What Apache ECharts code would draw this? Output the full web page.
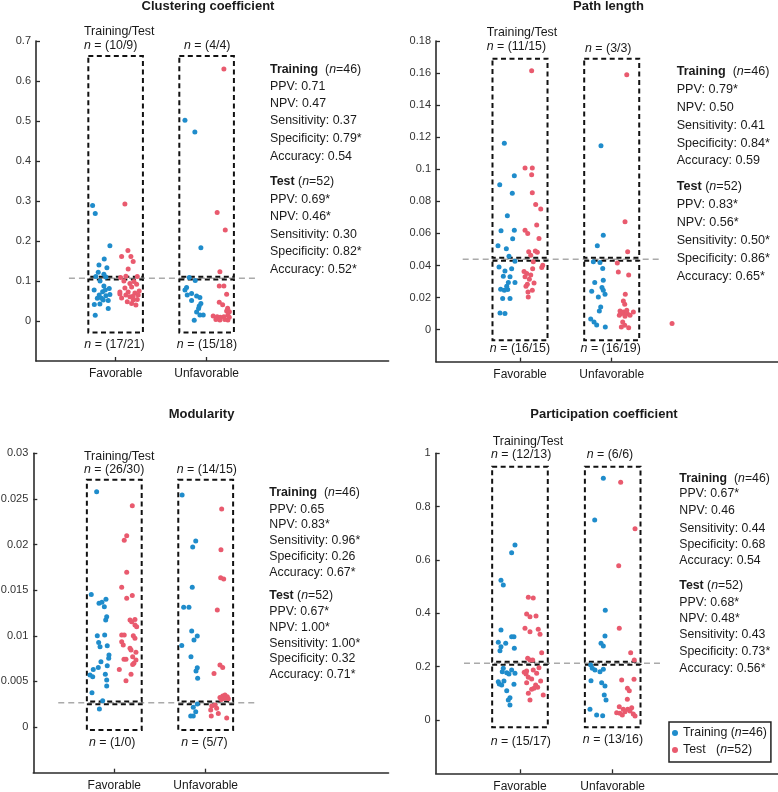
<!DOCTYPE html>
<html><head><meta charset="utf-8">
<script src="https://cdn.jsdelivr.net/npm/echarts@6/dist/echarts.min.js"></script>
<style>html,body{margin:0;padding:0;background:#fff}#c{width:778px;height:792px}</style>
</head><body><div id="c"></div>
<script>
// ---------------- DATA ----------------
const categories = ['Favorable', 'Unfavorable'];

// Clustering coefficient: [x (1=Favorable, 2=Unfavorable, jittered), value]
const ccTrain = [
  [0.747,0.289],[0.776,0.269],[0.937,0.188],[0.875,0.155],[0.817,0.140],[0.904,0.133],[0.809,0.122],[0.871,0.117],[0.783,0.111],[0.893,0.110],
  [0.829,0.100],[0.871,0.0875],[0.930,0.081],[0.764,0.0775],[0.857,0.073],[0.820,0.065],[0.893,0.063],[0.937,0.066],[0.799,0.057],[0.864,0.0525],[0.919,0.051],[0.827,0.0425],[0.766,0.041],[0.919,0.0315],[0.776,0.0145],[0.886,0.0775],[0.845,0.057],
  [1.762,0.502],[1.871,0.4725],[1.937,0.183],[1.809,0.109],
  [1.875,0.101],[1.780,0.084],[1.835,0.069],[1.787,0.065],[1.890,0.0625],[1.926,0.059],[1.835,0.051],[1.937,0.044],[1.919,0.0375],[1.912,0.031],[1.890,0.0225],[1.926,0.015],[1.963,0.015],[1.864,0.002],[1.762,0.0775]
];
const ccTest = [
  [1.102,0.2925],[1.135,0.176],[1.066,0.161],[1.168,0.161],[1.193,0.149],[1.138,0.130],[1.055,0.109],[1.238,0.111],[1.113,0.112],
  [1.091,0.100],[1.201,0.099],[1.157,0.094],[1.231,0.092],[1.102,0.0825],[1.176,0.085],[1.047,0.0675],[1.113,0.065],[1.212,0.070],[1.248,0.065],[1.066,0.0575],[1.157,0.0608],[1.193,0.0525],[1.238,0.054],[1.128,0.0483],[1.223,0.040],[1.176,0.044],[1.047,0.0725],[1.138,0.0725],[1.259,0.075],[1.193,0.0625],
  [2.190,0.630],[2.116,0.271],[2.205,0.2275],[2.146,0.123],
  [2.139,0.0875],[2.190,0.0875],[2.220,0.0667],[2.139,0.0467],[2.176,0.0408],[2.231,0.0317],[2.220,0.025],[2.072,0.0125],[2.116,0.0108],[2.150,0.0092],[2.190,0.0108],[2.234,0.015],[2.249,0.0092],[2.102,0.004],[2.146,0.0025],[2.200,0.004],[2.234,0.0025],[2.250,0.0233]
];
const ccThreshold = 0.107;
const ccTicks = [0, 0.1, 0.2, 0.3, 0.4, 0.5, 0.6, 0.7];
const ccUpperN = ['10/9', '4/4'];
const ccLowerN = ['17/21', '15/18'];
const ccStatsTrain = ['PPV: 0.71', 'NPV: 0.47', 'Sensitivity: 0.37', 'Specificity: 0.79*', 'Accuracy: 0.54'];
const ccStatsTest = ['PPV: 0.69*', 'NPV: 0.46*', 'Sensitivity: 0.30', 'Specificity: 0.82*', 'Accuracy: 0.52*'];

// Path length
const plTrain = [
  [0.829,0.1163],[0.938,0.096],[0.779,0.0904],[0.916,0.085],[0.862,0.071],[0.793,0.0616],[0.938,0.062],[0.920,0.0566],[0.760,0.0523],[0.851,0.0504],[0.880,0.0458],
  [0.945,0.0427],[0.771,0.0391],[0.836,0.0366],[0.818,0.0333],[0.891,0.0329],[0.873,0.0294],[0.945,0.0294],[0.789,0.0252],[0.829,0.0246],[0.866,0.025],[0.811,0.0194],[0.891,0.0194],[0.782,0.0104],[0.836,0.010],[0.855,0.027],[0.909,0.038],
  [1.883,0.1146],[1.908,0.0589],[1.843,0.0523],
  [1.800,0.0423],[1.872,0.0419],[1.902,0.0381],[1.815,0.0294],[1.908,0.0308],[1.782,0.0239],[1.894,0.0262],[1.908,0.0246],[1.927,0.0221],[1.880,0.0141],[1.865,0.0116],[1.771,0.0066],[1.807,0.0048],[1.836,0.0029],[1.930,0.0016],[1.854,0.0204]
];
const plTest = [
  [1.127,0.1614],[1.055,0.1008],[1.134,0.1008],[1.127,0.0966],[1.134,0.0854],[1.171,0.0781],[1.226,0.0752],[1.182,0.0652],[1.055,0.062],[1.084,0.060],[1.207,0.0569],[1.095,0.0485],[1.167,0.0491],[1.189,0.0483],[1.117,0.0464],
  [1.145,0.0423],[1.248,0.0402],[1.237,0.0388],[1.138,0.0379],[1.044,0.0362],[1.073,0.035],[1.117,0.034],[1.055,0.0329],[1.102,0.0314],[1.153,0.0291],[1.080,0.0283],[1.134,0.0246],[1.087,0.0235],[1.090,0.0204],[1.065,0.027],
  [2.164,0.159],[2.145,0.0673],[2.174,0.0485],
  [2.061,0.0416],[2.072,0.036],[2.185,0.034],[2.148,0.0221],[2.127,0.0179],[2.142,0.0158],[2.091,0.0116],[2.127,0.011],[2.164,0.0121],[2.109,0.010],[2.170,0.010],[2.083,0.0089],[2.236,0.011],[2.120,0.0048],[2.142,0.0027],[2.105,0.0016],[2.185,0.0012],[2.145,0.0083],[2.200,0.0089],
  [2.658,0.0039]
];
const plThreshold = 0.0439;
const plTicks = [0, 0.02, 0.04, 0.06, 0.08, 0.1, 0.12, 0.14, 0.16, 0.18];
const plUpperN = ['11/15', '3/3'];
const plLowerN = ['16/15', '16/19'];
const plStatsTrain = ['PPV: 0.79*', 'NPV: 0.50', 'Sensitivity: 0.41', 'Specificity: 0.84*', 'Accuracy: 0.59'];
const plStatsTest = ['PPV: 0.83*', 'NPV: 0.56*', 'Sensitivity: 0.50*', 'Specificity: 0.86*', 'Accuracy: 0.65*'];

// Modularity
const modTrain = [
  [0.807,0.0258],[0.748,0.01454],[0.833,0.01356],[0.865,0.01367],[0.909,0.0140],[0.891,0.01319],[0.917,0.01209],[0.906,0.01173],[0.814,0.01001],[0.895,0.01008],[0.829,0.00928],[0.844,0.0088],[0.923,0.00891],[0.942,0.00789],[0.939,0.00753],[0.825,0.00654],[0.770,0.00632],[0.923,0.00672],[0.734,0.0057],[0.764,0.00551],[0.902,0.00578],[0.917,0.00515],[0.917,0.00449],[0.756,0.00376],[0.873,0.00288],[0.854,0.00716],
  [0.837,0.00197],
  [1.742,0.02543],[1.891,0.02039],[1.858,0.01973],[1.853,0.01531],[1.759,0.01312],[1.817,0.01312],[1.847,0.01052],[1.908,0.00997],[1.872,0.00954],[1.738,0.00895],[1.839,0.00771],[1.908,0.0065],[1.894,0.00614],[1.912,0.00534],
  [1.908,0.00252],[1.864,0.00216],[1.891,0.00168],[1.836,0.00121],[1.864,0.00121]
];
const modTest = [
  [1.197,0.02426],[1.136,0.02097],[1.109,0.02046],[1.136,0.01696],[1.081,0.01531],[1.136,0.01411],[1.197,0.01443],[1.172,0.01173],[1.226,0.0118],[1.190,0.01154],[1.226,0.01118],[1.245,0.0110],[1.081,0.01008],[1.109,0.01008],[1.208,0.01001],[1.226,0.00972],[1.081,0.00935],[1.172,0.00863],[1.183,0.00844],[1.237,0.00819],[1.201,0.00771],[1.106,0.00742],[1.128,0.00742],[1.237,0.00734],[1.215,0.00698],[1.201,0.00687],[1.055,0.00632],[1.183,0.00578],[1.128,0.00508],[1.098,0.00899],
  [2.175,0.0239],[2.167,0.01944],[2.164,0.01637],[2.197,0.01622],[2.127,0.01282],[2.156,0.0068],[2.186,0.00654],[2.091,0.00588],[2.186,0.0034],[2.211,0.00351],[2.236,0.00332],[2.156,0.00325],[2.200,0.00314],[2.247,0.0031],[2.171,0.00303],
  [2.066,0.0023],[2.102,0.00241],[2.055,0.00186],[2.120,0.00205],[2.061,0.00121],[2.138,0.0015],[2.230,0.00099]
];
const modThreshold = 0.00266;
const modTicks = [0, 0.005, 0.01, 0.015, 0.02, 0.025, 0.03];
const modUpperN = ['26/30', '14/15'];
const modLowerN = ['1/0', '5/7'];
const modStatsTrain = ['PPV: 0.65', 'NPV: 0.83*', 'Sensitivity: 0.96*', 'Specificity: 0.26', 'Accuracy: 0.67*'];
const modStatsTest = ['PPV: 0.67*', 'NPV: 1.00*', 'Sensitivity: 1.00*', 'Specificity: 0.32', 'Accuracy: 0.71*'];

// Participation coefficient
const pcTrain = [
  [0.946,0.656],[0.910,0.627],[0.795,0.524],[0.820,0.506],[0.795,0.3375],[0.935,0.3125],[0.910,0.3125],[0.766,0.291],[0.846,0.2875],[0.795,0.275],[0.939,0.269],[0.784,0.260],
  [0.820,0.194],[0.910,0.1875],[0.857,0.1775],[0.809,0.181],[0.946,0.175],[0.881,0.1725],[0.827,0.146],[0.777,0.135],[0.803,0.131],[0.935,0.134],[0.857,0.110],[0.892,0.0836],[0.874,0.075],[0.892,0.0562],[0.766,0.1436],
  [1.899,0.906],[1.806,0.750],[1.920,0.411],[1.917,0.315],[1.874,0.2875],[1.899,0.2775],
  [1.763,0.206],[1.780,0.194],[1.899,0.190],[1.766,0.1475],[1.881,0.140],[1.917,0.1275],[1.909,0.094],[1.928,0.075],[1.755,0.040],[1.827,0.0187],[1.892,0.016],[1.863,0.181],[1.809,0.1875]
];
const pcTest = [
  [1.090,0.460],[1.143,0.4575],[1.072,0.3975],[1.108,0.3875],[1.173,0.390],[1.054,0.344],[1.197,0.340],[1.108,0.331],[1.216,0.321],[1.234,0.2525],[1.083,0.231],[1.108,0.225],[1.137,0.225],
  [1.205,0.196],[1.072,0.184],[1.065,0.1725],[1.090,0.160],[1.126,0.154],[1.169,0.131],[1.223,0.146],[1.191,0.1225],[1.126,0.115],[1.090,0.100],[1.251,0.094],[1.108,0.075],[1.046,0.179],[1.143,0.1875],[1.180,0.175],[1.072,0.140],[1.151,0.119],
  [2.086,0.891],[2.241,0.717],[2.065,0.5787],[2.071,0.344],[2.194,0.2525],[2.233,0.225],
  [2.097,0.150],[2.230,0.1525],[2.159,0.119],[2.179,0.110],[2.158,0.0776],[2.071,0.050],[2.114,0.040],[2.162,0.040],[2.205,0.046],[2.043,0.0275],[2.079,0.025],[2.133,0.031],[2.222,0.0225],[2.241,0.015],[2.104,0.0187],[2.187,0.034]
];
const pcThreshold = 0.2126;
const pcTicks = [0, 0.2, 0.4, 0.6, 0.8, 1];
const pcUpperN = ['12/13', '6/6'];
const pcLowerN = ['15/17', '13/16'];
const pcStatsTrain = ['PPV: 0.67*', 'NPV: 0.46', 'Sensitivity: 0.44', 'Specificity: 0.68', 'Accuracy: 0.54'];
const pcStatsTest = ['PPV: 0.68*', 'NPV: 0.48*', 'Sensitivity: 0.43', 'Specificity: 0.73*', 'Accuracy: 0.56*'];

const nTrain = 46, nTest = 52;

// ---------------- LAYOUT / STYLE ----------------
const FONT = "'Liberation Sans', Arial, Helvetica, sans-serif";
const INK = '#1a1a1a';
const BLUE = '#1f8ccb', RED = '#e95a6e';

const panels = [
  { title: 'Clustering coefficient', train: ccTrain, test: ccTest, thr: ccThreshold, ticks: ccTicks, upN: ccUpperN, loN: ccLowerN, sTr: ccStatsTrain, sTe: ccStatsTest,
    grid: [36, 41, 352.6, 320], x: [0.125, 4], y: [-0.1, 0.7], boxY: [-0.029, 0.6625], thrX: [0.487, 2.564],
    titlePos: [208, 6], ttPos: [84, 31.7], upPos: [[84, 46], [184, 46]], loPos: [[114.5, 344.3], [207, 344.3]],
    statsX: 270, statsY: [70, 86.7, 103.3, 121, 138.7, 156.3, 182, 199.5, 217, 234.5, 252, 269.5], fs: 12.4 },
  { title: 'Path length', train: plTrain, test: plTest, thr: plThreshold, ticks: plTicks, upN: plUpperN, loN: plLowerN, sTr: plStatsTrain, sTe: plStatsTest,
    grid: [436, 41, 341.7, 320.7], x: [0.084, 3.81], y: [-0.02, 0.18], boxY: [-0.0067, 0.169], thrX: [0.375, 2.549],
    titlePos: [608.5, 6], ttPos: [486.7, 33], upPos: [[486.7, 46.7], [585, 48.3]], loPos: [[520, 349], [610.7, 349]],
    statsX: 676.7, statsY: [71.7, 89.3, 107.3, 126, 143.3, 161, 186.7, 204.3, 222.3, 240.7, 259, 276.7], fs: 12.6 },
  { title: 'Modularity', train: modTrain, test: modTest, thr: modThreshold, ticks: modTicks, upN: modUpperN, loN: modLowerN, sTr: modStatsTrain, sTe: modStatsTest,
    grid: [33.3, 453.3, 355.2, 319.4], x: [0.114, 4], y: [-0.005, 0.03], boxY: [-0.00033, 0.0271], thrX: [0.387, 2.572],
    titlePos: [201.5, 414.3], ttPos: [84, 456.7], upPos: [[84, 469.3], [176.7, 469.3]], loPos: [[112.2, 742.3], [204.5, 742.3]],
    statsX: 269.3, statsY: [492.7, 509.3, 525, 540.7, 556.7, 572.7, 595.7, 611.7, 627.3, 643.3, 659, 674.3], fs: 12.3 },
  { title: 'Participation coefficient', train: pcTrain, test: pcTest, thr: pcThreshold, ticks: pcTicks, upN: pcUpperN, loN: pcLowerN, sTr: pcStatsTrain, sTe: pcStatsTest,
    grid: [435.7, 453.3, 342.3, 320], x: [0.091, 3.783], y: [-0.2, 1], boxY: [-0.027, 0.95], thrX: [0.396, 2.51],
    titlePos: [604, 414.3], ttPos: [492.7, 442], upPos: [[491, 455], [586.7, 455]], loPos: [[520.8, 741.7], [613, 739.3]],
    statsX: 679.3, statsY: [478.3, 494, 511, 528.3, 545, 561, 585.7, 602.3, 619, 635, 651.7, 668.3], fs: 12.3 }
];
const BOX_HALF = 0.3;
const GAP_PX = 1.4;

function richFor(size) {
  return {
    b: { fontWeight: 'bold', fontSize: size, fontFamily: FONT, fill: INK },
    i: { fontStyle: 'italic', fontSize: size, fontFamily: FONT, fill: INK }
  };
}
function txt(x, y, text, size, align, weight) {
  return { type: 'text', x: x, y: y, silent: true, z: 10,
    style: { text: text, fontSize: size, fontFamily: FONT, fontWeight: weight || 'normal', fill: INK,
             align: align || 'left', verticalAlign: 'middle', rich: richFor(size) } };
}
function fmt(v) { return String(+v.toFixed(4)); }

const grids = [], xAxes = [], yAxes = [], series = [], graphics = [];
panels.forEach((p, k) => {
  grids.push({ left: p.grid[0], top: p.grid[1], width: p.grid[2], height: p.grid[3], containLabel: false, outerBoundsMode: 'none' });
  const axisLine = { show: true, onZero: false, lineStyle: { color: '#2b2b2b', width: 1.6 } };
  xAxes.push({ gridIndex: k, type: 'value', min: p.x[0], max: p.x[1], axisLine: axisLine, splitLine: { show: false },
    axisTick: { inside: true, length: 4, customValues: [1, 2], lineStyle: { color: '#2b2b2b', width: 1.3 } },
    axisLabel: { customValues: [1, 2], formatter: v => categories[Math.round(v) - 1], fontSize: 12, fontFamily: FONT, color: INK, margin: 7 } });
  yAxes.push({ gridIndex: k, type: 'value', min: p.y[0], max: p.y[1], axisLine: axisLine, splitLine: { show: false },
    axisTick: { inside: true, length: 4, customValues: p.ticks, lineStyle: { color: '#2b2b2b', width: 1.3 } },
    axisLabel: { customValues: p.ticks, formatter: fmt, fontSize: 11, fontFamily: FONT, color: '#333', margin: 5 } });

  const g = (p.y[1] - p.y[0]) / p.grid[3] * GAP_PX;
  const boxes = [];
  [1, 2].forEach(c => {
    boxes.push([c - BOX_HALF, c + BOX_HALF, p.thr + g, p.boxY[1]]);
    boxes.push([c - BOX_HALF, c + BOX_HALF, p.boxY[0], p.thr - g]);
  });
  series.push({ type: 'line', xAxisIndex: k, yAxisIndex: k, data: [[p.thrX[0], p.thr], [p.thrX[1], p.thr]], symbol: 'none', silent: true, z: 1,
    lineStyle: { color: '#aaaaaa', width: 1.6, type: [6, 4] } });
  series.push({ type: 'custom', xAxisIndex: k, yAxisIndex: k, data: boxes, silent: true, z: 2, encode: { x: [0, 1], y: [2, 3] },
    renderItem: (params, api) => {
      const a = api.coord([api.value(0), api.value(3)]);
      const b = api.coord([api.value(1), api.value(2)]);
      return { type: 'rect', shape: { x: a[0], y: a[1], width: b[0] - a[0], height: b[1] - a[1] },
               style: { fill: 'none', stroke: '#111', lineWidth: 2, lineDash: [5, 3.5] } };
    } });
  series.push({ name: 'Training', type: 'scatter', xAxisIndex: k, yAxisIndex: k, data: p.train, symbolSize: 5, z: 3,
    itemStyle: { color: BLUE, opacity: 1 } });
  series.push({ name: 'Test', type: 'scatter', xAxisIndex: k, yAxisIndex: k, data: p.test, symbolSize: 5, z: 4,
    itemStyle: { color: RED, opacity: 1 } });

  graphics.push(txt(p.titlePos[0], p.titlePos[1], p.title, 13, 'center', 'bold'));
  graphics.push(txt(p.ttPos[0], p.ttPos[1], 'Training/Test', 12.4));
  p.upN.forEach((s, j) => graphics.push(txt(p.upPos[j][0], p.upPos[j][1], '{i|n} = (' + s + ')', 12.4)));
  p.loN.forEach((s, j) => graphics.push(txt(p.loPos[j][0], p.loPos[j][1], '{i|n} = (' + s + ')', 12.4, 'center')));
  const lines = ['{b|Training}  ({i|n}=' + nTrain + ')'].concat(p.sTr, ['{b|Test} ({i|n}=' + nTest + ')'], p.sTe);
  lines.forEach((s, j) => graphics.push(txt(p.statsX, p.statsY[j], s, p.fs)));
});

const chart = echarts.init(document.getElementById('c'), null, { renderer: 'canvas' });
chart.setOption({
  animation: false,
  backgroundColor: '#fff',
  grid: grids, xAxis: xAxes, yAxis: yAxes, series: series, graphic: graphics,
  legend: { data: ['Training', 'Test'], orient: 'vertical', left: 669, top: 722, icon: 'circle', itemWidth: 6, itemHeight: 6,
    itemGap: 3, padding: [4, 4, 5, 3], borderColor: '#222', borderWidth: 1.5, borderRadius: 0, selectedMode: false,
    formatter: name => name === 'Training' ? 'Training ({i|n}=' + nTrain + ')' : 'Test   ({i|n}=' + nTest + ')',
    textStyle: { fontSize: 12.4, fontFamily: FONT, color: INK, lineHeight: 14,
      rich: { i: { fontStyle: 'italic', fontSize: 12.4, fontFamily: FONT, color: INK, lineHeight: 14 } } } }
});
</script></body></html>
